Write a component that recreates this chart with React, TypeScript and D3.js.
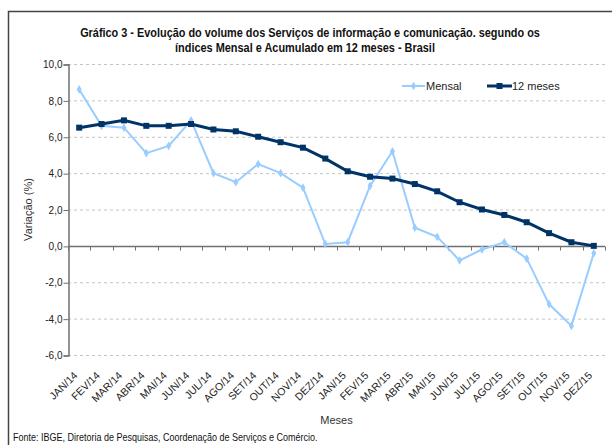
import React, { useEffect, useRef } from "react";
import * as d3 from "d3";

// Serviços de informação e comunicação - Mensal vs acumulado 12 meses

const meses = [
  "JAN/14", "FEV/14", "MAR/14", "ABR/14", "MAI/14", "JUN/14",
  "JUL/14", "AGO/14", "SET/14", "OUT/14", "NOV/14", "DEZ/14",
  "JAN/15", "FEV/15", "MAR/15", "ABR/15", "MAI/15", "JUN/15",
  "JUL/15", "AGO/15", "SET/15", "OUT/15", "NOV/15", "DEZ/15",
];

const mensal = [
  8.6, 6.6, 6.5, 5.1, 5.5, 6.9, 4.0, 3.5, 4.5, 4.0, 3.2, 0.1,
  0.2, 3.3, 5.2, 1.0, 0.5, -0.8, -0.2, 0.2, -0.7, -3.2, -4.4, -0.4,
];

const dozeMeses = [
  6.5, 6.7, 6.9, 6.6, 6.6, 6.7, 6.4, 6.3, 6.0, 5.7, 5.4, 4.8,
  4.1, 3.8, 3.7, 3.4, 3.0, 2.4, 2.0, 1.7, 1.3, 0.7, 0.2, 0.0,
];

const yTicks = [10, 8, 6, 4, 2, 0, -2, -4, -6];

const fmt = (v: number) => d3.format(".1f")(v).replace(".", ",").replace("−", "-");

// squeeze a text horizontally to a target width (narrow font look)
function narrow(sel: d3.Selection<SVGTextElement, unknown, null, undefined>, cx: number, cy: number, width: number) {
  const node = sel.node();
  if (!node) return;
  const w = node.getComputedTextLength() || width;
  sel.attr("transform", `translate(${cx},${cy}) scale(${Math.min(1, width / w)},1)`);
}

export default function App() {
  const svgRef = useRef<SVGSVGElement | null>(null);

  useEffect(() => {
    const svgEl = svgRef.current;
    if (!svgEl) return;
    const svg = d3.select(svgEl);
    svg.selectAll("*").remove();

    const W = 612, H = 445;
    const left = 68, right = 605, top = 64, bottom = 355;
    const sans = "'Liberation Sans', Arial, sans-serif";

    const x = d3.scaleBand<string>().domain(meses).range([left, right]).padding(0);
    const y = d3.scaleLinear().domain([-6, 10]).range([bottom, top]);
    const cx = (m: string) => (x(m) ?? 0) + x.bandwidth() / 2;

    svg.attr("width", W).attr("height", H);
    svg.append("rect").attr("width", W).attr("height", H).attr("fill", "#fff");

    // frame
    svg.append("path")
      .attr("d", `M8.5,${H}V11.5H${W}`)
      .attr("fill", "none").attr("stroke", "#444").attr("stroke-width", 1.5);

    // title
    const title = svg.append("g")
      .attr("font-family", sans).attr("text-anchor", "middle")
      .attr("font-weight", "bold").attr("font-size", 13).attr("fill", "#111");
    const t1 = title.append("text")
      .text("Gráfico 3 - Evolução do volume dos Serviços de informação e comunicação. segundo os");
    narrow(t1 as any, 310, 37, 460);
    const t2 = title.append("text")
      .text("índices Mensal e Acumulado em 12 meses - Brasil");
    narrow(t2 as any, 305, 52, 260);

    // grid
    svg.append("g").selectAll("line")
      .data(yTicks.filter((t) => t !== 0))
      .join("line")
      .attr("x1", left).attr("x2", right)
      .attr("y1", (d) => y(d) + 0.5).attr("y2", (d) => y(d) + 0.5)
      .attr("stroke", "#c4c4c4").attr("stroke-dasharray", "3,3");

    const axisColor = "#707070";
    // y axis
    const yAxis = d3.axisLeft(y).tickValues(yTicks).tickSize(5).tickFormat((d) => fmt(+d));
    const gy = svg.append("g").attr("transform", `translate(${left + 0.5},0.5)`).call(yAxis);
    gy.select(".domain").attr("stroke", axisColor).attr("stroke-width", 1.5);
    gy.selectAll(".tick line").attr("stroke", axisColor);
    gy.selectAll(".tick text")
      .attr("font-family", sans)
      .attr("font-size", 10).attr("fill", "#222").attr("x", -6);

    // zero axis with boundary ticks
    const y0 = Math.round(y(0)) + 0.5;
    svg.append("line").attr("x1", left).attr("x2", right).attr("y1", y0).attr("y2", y0)
      .attr("stroke", axisColor).attr("stroke-width", 1.5);
    const bounds = meses.map((m) => x(m) ?? 0).concat([right]);
    svg.append("g").selectAll("line").data(bounds).join("line")
      .attr("x1", (d) => Math.round(d) + 0.5).attr("x2", (d) => Math.round(d) + 0.5)
      .attr("y1", y0).attr("y2", y0 + 4)
      .attr("stroke", axisColor);

    // x labels
    svg.append("g").selectAll("text").data(meses).join("text")
      .attr("transform", (d) => `translate(${cx(d) - 1},${bottom + 21}) rotate(-45)`)
      .attr("text-anchor", "end")
      .attr("font-family", sans)
      .attr("font-size", 10.5).attr("fill", "#222")
      .text((d) => d);

    // axis titles
    svg.append("text")
      .attr("transform", `translate(32,${(top + bottom) / 2}) rotate(-90)`)
      .attr("text-anchor", "middle")
      .attr("font-family", sans)
      .attr("font-size", 11).attr("fill", "#333")
      .text("Variação (%)");
    svg.append("text")
      .attr("x", (left + right) / 2).attr("y", 424)
      .attr("text-anchor", "middle")
      .attr("font-family", sans)
      .attr("font-size", 11).attr("fill", "#333")
      .text("Meses");

    // footer
    const foot = svg.append("text")
      .attr("text-anchor", "start")
      .attr("font-family", sans)
      .attr("font-size", 10.5).attr("fill", "#111")
      .text("Fonte: IBGE, Diretoria de Pesquisas, Coordenação de Serviços e Comércio.");
    narrow(foot as any, 13, 441, 305);

    const line = d3.line<number>()
      .x((d, i) => cx(meses[i]))
      .y((d) => y(d));

    const lightBlue = "#99ccff";
    const navy = "#003366";
    const diamond = d3.symbol().type(d3.symbolDiamond).size(22);

    // Mensal
    svg.append("path").datum(mensal)
      .attr("fill", "none").attr("stroke", lightBlue).attr("stroke-width", 2)
      .attr("d", line);
    svg.append("g").selectAll("path").data(mensal).join("path")
      .attr("transform", (d, i) => `translate(${cx(meses[i])},${y(d)})`)
      .attr("d", diamond).attr("fill", lightBlue);

    // 12 meses
    svg.append("path").datum(dozeMeses)
      .attr("fill", "none").attr("stroke", navy).attr("stroke-width", 3)
      .attr("d", line);
    svg.append("g").selectAll("rect").data(dozeMeses).join("rect")
      .attr("x", (d, i) => cx(meses[i]) - 3).attr("y", (d) => y(d) - 3)
      .attr("width", 6).attr("height", 6).attr("fill", navy);

    // legend
    const lg = svg.append("g")
      .attr("font-family", sans)
      .attr("font-size", 11).attr("fill", "#222");
    const ly = 86;
    lg.append("line").attr("x1", 402).attr("x2", 425).attr("y1", ly).attr("y2", ly)
      .attr("stroke", lightBlue).attr("stroke-width", 2);
    lg.append("path").attr("transform", `translate(413.5,${ly})`).attr("d", diamond).attr("fill", lightBlue);
    lg.append("text").attr("x", 426).attr("y", ly + 4).text("Mensal");
    lg.append("line").attr("x1", 487).attr("x2", 512).attr("y1", ly).attr("y2", ly)
      .attr("stroke", navy).attr("stroke-width", 3);
    lg.append("rect").attr("x", 496.5).attr("y", ly - 3).attr("width", 6).attr("height", 6).attr("fill", navy);
    lg.append("text").attr("x", 512).attr("y", ly + 4).text("12 meses");
  }, []);

  return (
    <div style={{ position: "absolute", left: 0, top: 0, width: 612, height: 445 }}>
      <svg ref={svgRef} style={{ display: "block" }} />
    </div>
  );
}
